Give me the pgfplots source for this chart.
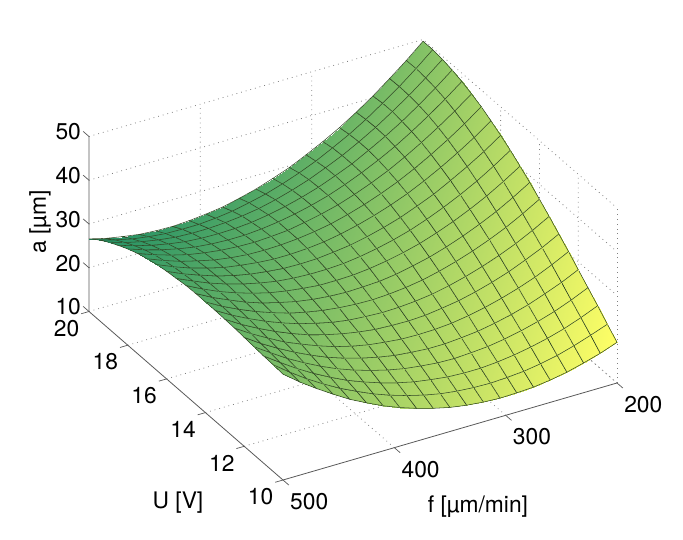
\documentclass[border=0pt]{standalone}
\usepackage{fontspec}
\setmainfont{TeX Gyre Heros}
\usepackage{pgfplots}
\pgfplotsset{compat=1.18}
\definecolor{meshline}{RGB}{50,72,38}

\begin{document}
\begin{tikzpicture}
\begin{axis}[
    x={(-0.5567pt,-0.1617pt)},
    y={(-9.7pt,8.425pt)},
    z={(0pt,2.1875pt)},
    xmin=200, xmax=500,
    ymin=10, ymax=20,
    zmin=10, zmax=50,
    xtick={200,300,400,500},
    ytick={10,12,14,16,18,20},
    ztick={10,20,30,40,50},
    /pgf/number format/assume math mode=true,
    /pgf/number format/1000 sep={},
    tick label style={font=\fontsize{11.4}{13}\selectfont},
    label style={font=\fontsize{11.4}{13}\selectfont},
    xticklabel style={xshift=5.5pt,yshift=2pt},
    yticklabel style={yshift=2.5pt},
    zticklabel style={xshift=2.5pt,yshift=-2.5pt},
    xlabel={f [µm/min]},
    ylabel={U [V]},
    zlabel={a [µm]},
    xlabel style={at={(axis cs:500,10,10)},xshift=97.5pt,yshift=-13.5pt,anchor=center,rotate=0},
    ylabel style={at={(axis cs:500,10,10)},xshift=-52.5pt,yshift=-11.5pt,anchor=center,rotate=0},
    zlabel style={at={(axis cs:500,10,10)},xshift=129pt,yshift=121.5pt,anchor=center},
    axis line style={draw=none},
    tick align=outside,
    major tick length=4pt,
    tick style={draw=none},
    clip=false,
    colormap={summer}{rgb=(0,0.5,0.4) rgb=(1,1,0.4)},
    point meta min=0, point meta max=1,
]
\coordinate (O) at (axis cs:500,10,10);
% back walls and floor grid
\pgfplotsinvokeforeach{10,20,30,40,50}{
  \draw[dotted,black!50,line width=0.4pt] (axis cs:500,20,#1) -- (axis cs:200,20,#1) -- (axis cs:200,10,#1);
}
\pgfplotsinvokeforeach{200,300,400}{
  \draw[dotted,black!50,line width=0.4pt] (axis cs:#1,10,10) -- (axis cs:#1,20,10) -- (axis cs:#1,20,50);
}
\pgfplotsinvokeforeach{12,14,16,18}{
  \draw[dotted,black!50,line width=0.4pt] (axis cs:500,#1,10) -- (axis cs:200,#1,10) -- (axis cs:200,#1,50);
}
\draw[dotted,black!50,line width=0.4pt] (axis cs:200,10,10) -- (axis cs:200,10,50);
% axis lines and ticks
\draw[black!65,line width=0.4pt] (axis cs:200,10,10) -- (axis cs:500,10,10) -- (axis cs:500,20,10) -- (axis cs:500,20,50);
\pgfplotsinvokeforeach{200,300,400,500}{
  \draw[black!65,line width=0.35pt] (axis cs:#1,10,10) -- (axis cs:#1,9.7,10);
}
\pgfplotsinvokeforeach{10,12,14,16,18,20}{
  \draw[black!65,line width=0.35pt] (axis cs:500,#1,10) -- (axis cs:507,#1,10);
}
\pgfplotsinvokeforeach{10,20,30,40,50}{
  \draw[black!65,line width=0.35pt] (axis cs:500,20,#1) -- (axis cs:500,20.3,#1);
}

\addplot3[
    surf,
    shader=faceted interp,
    faceted color=meshline,
    line width=0.27pt,
    mesh/cols=21,
    point meta={1.0-0.49*(\pgfkeysvalueof{/data point/y}-10)/10-0.51*(\pgfkeysvalueof{/data point/x}-200)/300+0.12*(\pgfkeysvalueof{/data point/x}-200)/300*(\pgfkeysvalueof{/data point/y}-10)/10},
] coordinates {
(200,10,19.3)(215,10,17.9)(230,10,16.8)(245,10,15.8)(260,10,15.1)(275,10,14.6)(290,10,14.4)(305,10,14.3)(320,10,14.5)(335,10,14.9)(350,10,15.5)(365,10,16.4)(380,10,17.5)(395,10,18.8)(410,10,20.3)(425,10,22.1)(440,10,24.0)(455,10,26.3)(470,10,28.7)(485,10,31.3)(500,10,34.2)
(200,10.5,21.5)(215,10.5,20.1)(230,10.5,18.8)(245,10.5,17.7)(260,10.5,16.9)(275,10.5,16.3)(290,10.5,16.0)(305,10.5,15.8)(320,10.5,15.9)(335,10.5,16.2)(350,10.5,16.7)(365,10.5,17.5)(380,10.5,18.5)(395,10.5,19.7)(410,10.5,21.1)(425,10.5,22.8)(440,10.5,24.6)(455,10.5,26.7)(470,10.5,29.0)(485,10.5,31.6)(500,10.5,34.4)
(200,11,23.8)(215,11,22.2)(230,11,20.8)(245,11,19.7)(260,11,18.8)(275,11,18.1)(290,11,17.6)(305,11,17.3)(320,11,17.3)(335,11,17.5)(350,11,18.0)(365,11,18.6)(380,11,19.5)(395,11,20.6)(410,11,21.9)(425,11,23.4)(440,11,25.2)(455,11,27.2)(470,11,29.4)(485,11,31.9)(500,11,34.5)
(200,11.5,26.0)(215,11.5,24.3)(230,11.5,22.8)(245,11.5,21.6)(260,11.5,20.6)(275,11.5,19.8)(290,11.5,19.2)(305,11.5,18.9)(320,11.5,18.7)(335,11.5,18.8)(350,11.5,19.2)(365,11.5,19.7)(380,11.5,20.5)(395,11.5,21.5)(410,11.5,22.7)(425,11.5,24.1)(440,11.5,25.8)(455,11.5,27.7)(470,11.5,29.8)(485,11.5,32.2)(500,11.5,34.7)
(200,12,28.2)(215,12,26.4)(230,12,24.9)(245,12,23.5)(260,12,22.4)(275,12,21.5)(290,12,20.8)(305,12,20.4)(320,12,20.1)(335,12,20.1)(350,12,20.4)(365,12,20.8)(380,12,21.5)(395,12,22.4)(410,12,23.5)(425,12,24.8)(440,12,26.4)(455,12,28.2)(470,12,30.2)(485,12,32.4)(500,12,34.9)
(200,12.5,30.4)(215,12.5,28.5)(230,12.5,26.8)(245,12.5,25.4)(260,12.5,24.2)(275,12.5,23.2)(290,12.5,22.4)(305,12.5,21.8)(320,12.5,21.5)(335,12.5,21.4)(350,12.5,21.5)(365,12.5,21.9)(380,12.5,22.4)(395,12.5,23.2)(410,12.5,24.2)(425,12.5,25.5)(440,12.5,27.0)(455,12.5,28.6)(470,12.5,30.6)(485,12.5,32.7)(500,12.5,35.1)
(200,13,32.5)(215,13,30.5)(230,13,28.8)(245,13,27.2)(260,13,25.9)(275,13,24.8)(290,13,23.9)(305,13,23.3)(320,13,22.8)(335,13,22.6)(350,13,22.7)(365,13,22.9)(380,13,23.4)(395,13,24.1)(410,13,25.0)(425,13,26.1)(440,13,27.5)(455,13,29.1)(470,13,30.9)(485,13,32.9)(500,13,35.2)
(200,13.5,34.6)(215,13.5,32.5)(230,13.5,30.6)(245,13.5,29.0)(260,13.5,27.6)(275,13.5,26.4)(290,13.5,25.4)(305,13.5,24.6)(320,13.5,24.1)(335,13.5,23.8)(350,13.5,23.7)(365,13.5,23.9)(380,13.5,24.2)(395,13.5,24.8)(410,13.5,25.7)(425,13.5,26.7)(440,13.5,28.0)(455,13.5,29.5)(470,13.5,31.2)(485,13.5,33.1)(500,13.5,35.3)
(200,14,36.6)(215,14,34.4)(230,14,32.4)(245,14,30.7)(260,14,29.2)(275,14,27.9)(290,14,26.8)(305,14,25.9)(320,14,25.3)(335,14,24.9)(350,14,24.7)(365,14,24.8)(380,14,25.1)(395,14,25.6)(410,14,26.3)(425,14,27.2)(440,14,28.4)(455,14,29.8)(470,14,31.4)(485,14,33.2)(500,14,35.3)
(200,14.5,38.5)(215,14.5,36.2)(230,14.5,34.1)(245,14.5,32.3)(260,14.5,30.7)(275,14.5,29.3)(290,14.5,28.1)(305,14.5,27.2)(320,14.5,26.4)(335,14.5,25.9)(350,14.5,25.7)(365,14.5,25.6)(380,14.5,25.8)(395,14.5,26.2)(410,14.5,26.8)(425,14.5,27.7)(440,14.5,28.7)(455,14.5,30.0)(470,14.5,31.6)(485,14.5,33.3)(500,14.5,35.3)
(200,15,40.3)(215,15,37.9)(230,15,35.7)(245,15,33.8)(260,15,32.1)(275,15,30.6)(290,15,29.3)(305,15,28.3)(320,15,27.5)(335,15,26.9)(350,15,26.5)(365,15,26.4)(380,15,26.4)(395,15,26.8)(410,15,27.3)(425,15,28.0)(440,15,29.0)(455,15,30.2)(470,15,31.6)(485,15,33.3)(500,15,35.2)
(200,15.5,42.0)(215,15.5,39.5)(230,15.5,37.2)(245,15.5,35.2)(260,15.5,33.4)(275,15.5,31.8)(290,15.5,30.4)(305,15.5,29.3)(320,15.5,28.4)(335,15.5,27.7)(350,15.5,27.2)(365,15.5,27.0)(380,15.5,27.0)(395,15.5,27.2)(410,15.5,27.6)(425,15.5,28.3)(440,15.5,29.2)(455,15.5,30.3)(470,15.5,31.6)(485,15.5,33.2)(500,15.5,34.9)
(200,16,43.5)(215,16,40.9)(230,16,38.6)(245,16,36.5)(260,16,34.5)(275,16,32.9)(290,16,31.4)(305,16,30.2)(320,16,29.2)(335,16,28.4)(350,16,27.9)(365,16,27.5)(380,16,27.4)(395,16,27.5)(410,16,27.9)(425,16,28.4)(440,16,29.2)(455,16,30.2)(470,16,31.5)(485,16,32.9)(500,16,34.6)
(200,16.5,44.9)(215,16.5,42.2)(230,16.5,39.8)(245,16.5,37.6)(260,16.5,35.6)(275,16.5,33.8)(290,16.5,32.3)(305,16.5,31.0)(320,16.5,29.9)(335,16.5,29.0)(350,16.5,28.3)(365,16.5,27.9)(380,16.5,27.7)(395,16.5,27.7)(410,16.5,28.0)(425,16.5,28.5)(440,16.5,29.1)(455,16.5,30.1)(470,16.5,31.2)(485,16.5,32.6)(500,16.5,34.2)
(200,17,46.2)(215,17,43.4)(230,17,40.9)(245,17,38.6)(260,17,36.5)(275,17,34.6)(290,17,33.0)(305,17,31.6)(320,17,30.4)(335,17,29.4)(350,17,28.7)(365,17,28.2)(380,17,27.9)(395,17,27.8)(410,17,27.9)(425,17,28.3)(440,17,28.9)(455,17,29.8)(470,17,30.8)(485,17,32.1)(500,17,33.6)
(200,17.5,47.2)(215,17.5,44.4)(230,17.5,41.8)(245,17.5,39.4)(260,17.5,37.2)(275,17.5,35.2)(290,17.5,33.5)(305,17.5,32.0)(320,17.5,30.7)(335,17.5,29.7)(350,17.5,28.9)(365,17.5,28.2)(380,17.5,27.9)(395,17.5,27.7)(410,17.5,27.8)(425,17.5,28.1)(440,17.5,28.6)(455,17.5,29.3)(470,17.5,30.3)(485,17.5,31.5)(500,17.5,32.9)
(200,18,48.1)(215,18,45.2)(230,18,42.5)(245,18,40.0)(260,18,37.7)(275,18,35.7)(290,18,33.9)(305,18,32.3)(320,18,30.9)(335,18,29.8)(350,18,28.9)(365,18,28.2)(380,18,27.7)(395,18,27.4)(410,18,27.4)(425,18,27.6)(440,18,28.0)(455,18,28.7)(470,18,29.6)(485,18,30.7)(500,18,32.0)
(200,18.5,48.8)(215,18.5,45.8)(230,18.5,43.0)(245,18.5,40.4)(260,18.5,38.1)(275,18.5,36.0)(290,18.5,34.0)(305,18.5,32.4)(320,18.5,30.9)(335,18.5,29.7)(350,18.5,28.7)(365,18.5,27.9)(380,18.5,27.3)(395,18.5,27.0)(410,18.5,26.9)(425,18.5,27.0)(440,18.5,27.3)(455,18.5,27.9)(470,18.5,28.7)(485,18.5,29.7)(500,18.5,30.9)
(200,19,49.3)(215,19,46.2)(230,19,43.3)(245,19,40.7)(260,19,38.2)(275,19,36.0)(290,19,34.0)(305,19,32.3)(320,19,30.7)(335,19,29.4)(350,19,28.3)(365,19,27.4)(380,19,26.8)(395,19,26.4)(410,19,26.2)(425,19,26.2)(440,19,26.4)(455,19,26.9)(470,19,27.6)(485,19,28.5)(500,19,29.7)
(200,19.5,49.6)(215,19.5,46.4)(230,19.5,43.4)(245,19.5,40.7)(260,19.5,38.1)(275,19.5,35.8)(290,19.5,33.8)(305,19.5,31.9)(320,19.5,30.3)(335,19.5,28.9)(350,19.5,27.7)(365,19.5,26.8)(380,19.5,26.0)(395,19.5,25.5)(410,19.5,25.2)(425,19.5,25.2)(440,19.5,25.3)(455,19.5,25.7)(470,19.5,26.3)(485,19.5,27.2)(500,19.5,28.3)
(200,20,49.6)(215,20,46.3)(230,20,43.3)(245,20,40.4)(260,20,37.8)(275,20,35.4)(290,20,33.3)(305,20,31.4)(320,20,29.6)(335,20,28.2)(350,20,26.9)(365,20,25.9)(380,20,25.0)(395,20,24.5)(410,20,24.1)(425,20,23.9)(440,20,24.0)(455,20,24.3)(470,20,24.9)(485,20,25.6)(500,20,26.6)
};
\end{axis}
\pgfresetboundingbox
\path[use as bounding box] ([shift={(-141.5pt,-29.5pt)}]O) rectangle ([shift={(200pt,240pt)}]O);
\end{tikzpicture}
\end{document}
